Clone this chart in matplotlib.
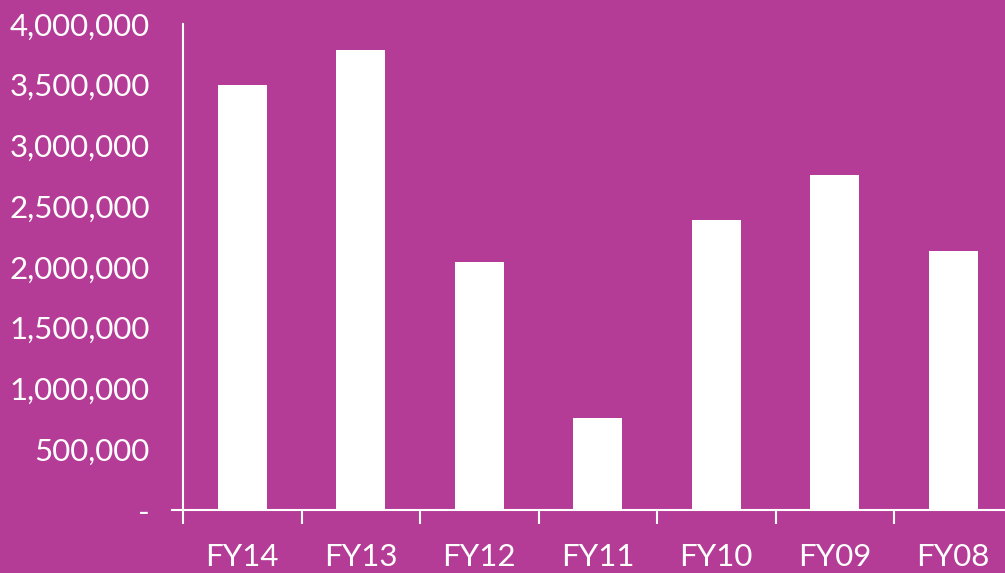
import matplotlib
matplotlib.use('Agg')
import matplotlib.pyplot as plt
import numpy as np
from matplotlib.ticker import FuncFormatter, FixedLocator

# データ
categories = ['FY14', 'FY13', 'FY12', 'FY11', 'FY10', 'FY09', 'FY08']
values = [3500000, 3790000, 2040000, 757000, 2390000, 2760000, 2130000]
yticks = [0, 500000, 1000000, 1500000, 2000000, 2500000, 3000000, 3500000, 4000000]

bg = '#B43C96'
plt.rcParams['font.family'] = ['Lato', 'DejaVu Sans']

W, H = 1005, 573
fig = plt.figure(figsize=(W / 100, H / 100), dpi=100, facecolor=bg)
# 軸の位置（ピクセルから）
left, bottom, top = 183, 510, 24
cat_w = 118.5
ax = fig.add_axes([left / W, (H - bottom) / H, len(categories) * cat_w / W, (bottom - top) / H])
ax.set_facecolor(bg)

x = np.arange(len(categories))
ax.bar(x, values, width=0.41, color='white', zorder=3)

ax.set_xlim(-0.5, len(categories) - 0.5)
ax.set_ylim(0, 4000000)

for s in ['top', 'right']:
    ax.spines[s].set_visible(False)
for s in ['left', 'bottom']:
    ax.spines[s].set_color('white')
    ax.spines[s].set_linewidth(1.5)

ax.set_xticks(x)
ax.set_xticklabels(categories, color='white', fontsize=22.5)
ax.tick_params(axis='x', which='major', length=0, pad=24)
ax.xaxis.set_minor_locator(FixedLocator(np.arange(-0.5, len(categories), 1)))
ax.tick_params(axis='x', which='minor', length=10, width=1.5, color='white', direction='out')

ax.set_yticks(yticks)
ax.yaxis.set_major_formatter(FuncFormatter(lambda v, p: '-' if v == 0 else f'{int(v):,}'))
ax.tick_params(axis='y', length=0, pad=24, labelcolor='white', labelsize=22.5)

# 0の位置の短い目盛り
ax.plot([-0.5 - 11 / cat_w, -0.5], [0, 0], color='white', lw=1.5, clip_on=False)

fig.savefig('out.png', dpi=100, facecolor=bg)
